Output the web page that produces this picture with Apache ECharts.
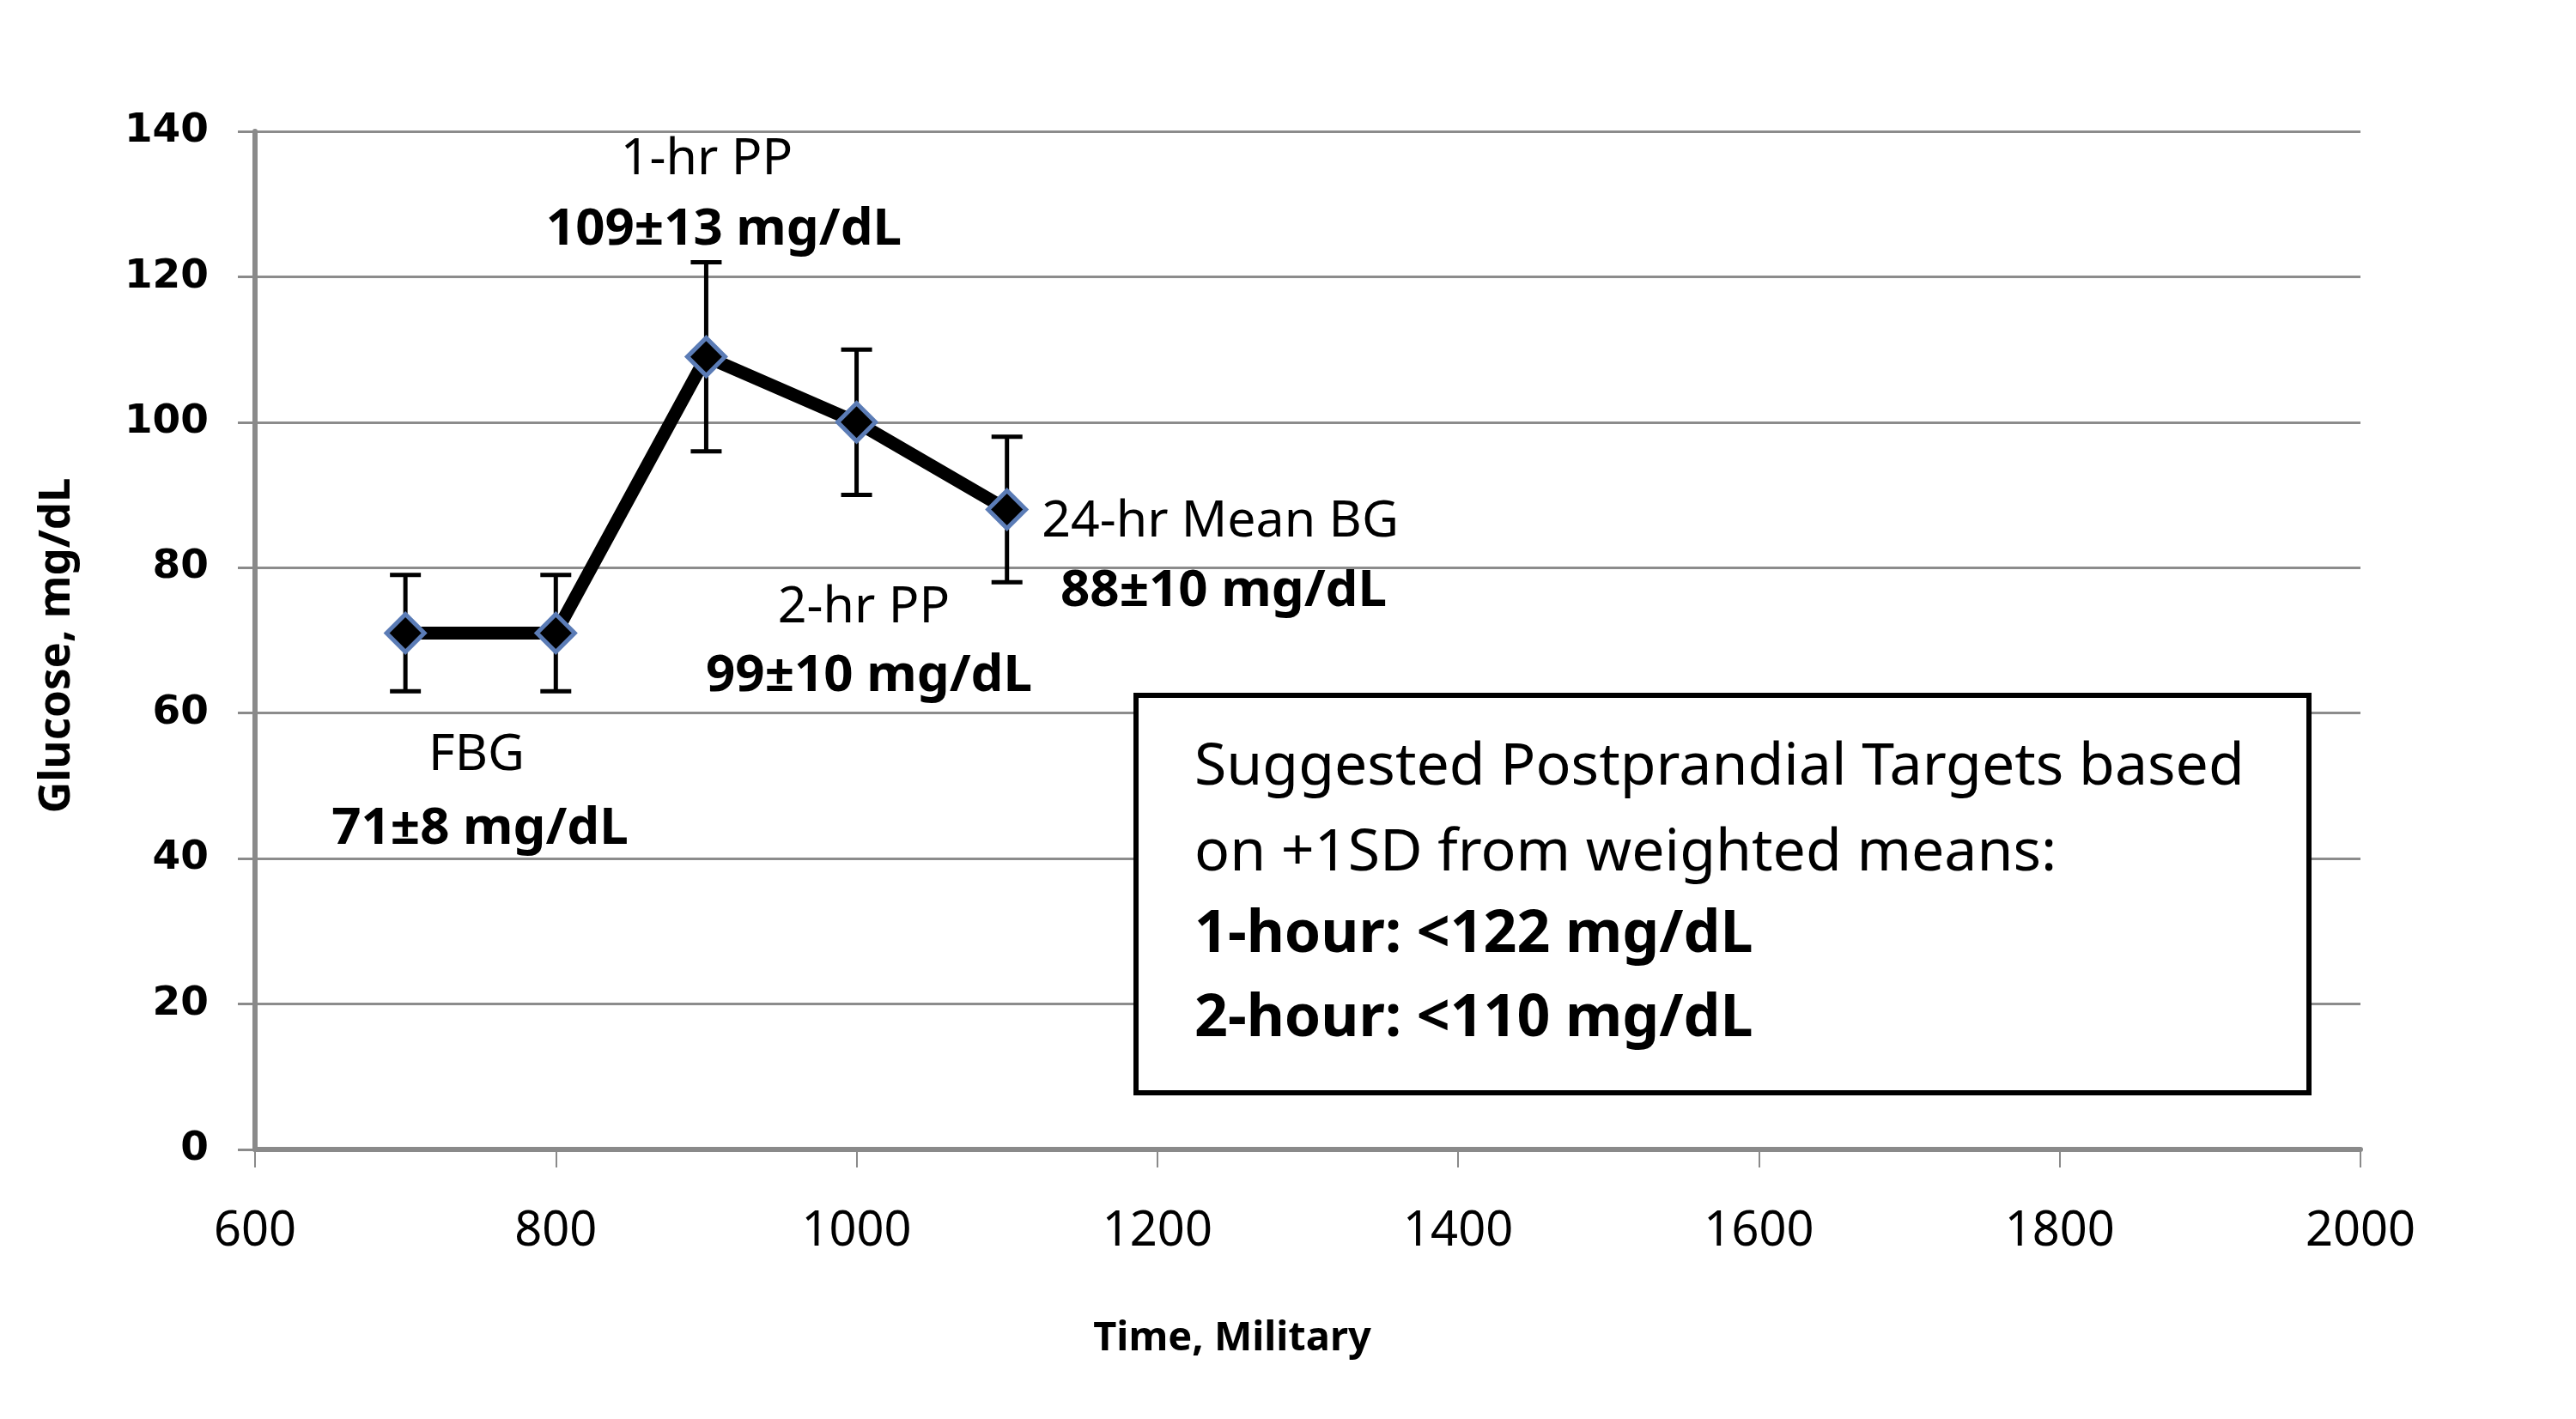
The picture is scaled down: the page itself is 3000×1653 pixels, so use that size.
<!DOCTYPE html>
<html><head><meta charset="utf-8">
<script src="https://cdn.jsdelivr.net/npm/echarts@6/dist/echarts.min.js"></script>
<style>html,body{margin:0;padding:0;background:#fff}#c{width:3000px;height:1653px}</style>
</head><body><div id="c"></div>
<script>
const times = [700, 800, 900, 1000, 1100];
const means = [71, 71, 109, 100, 88];
const sds = [8, 8, 13, 10, 10];
const xTicks = [600, 800, 1000, 1200, 1400, 1600, 1800, 2000];
const yTicks = [0, 20, 40, 60, 80, 100, 120, 140];
const annotations = [
  {title: 'FBG', value: '71±8 mg/dL'},
  {title: '1-hr PP', value: '109±13 mg/dL'},
  {title: '2-hr PP', value: '99±10 mg/dL'},
  {title: '24-hr Mean BG', value: '88±10 mg/dL'}
];
const boxLines = ['Suggested Postprandial Targets based', 'on +1SD from weighted means:', '1-hour: <122 mg/dL', '2-hour: <110 mg/dL'];

const F = 'Noto Sans';
const lineData = times.map((t, i) => [t, means[i]]);
const errData = times.map((t, i) => [t, means[i] - sds[i], means[i] + sds[i]]);

const chart = echarts.init(document.getElementById('c'), null, {renderer: 'canvas'});

const annPos = [
  [[555, 880], [559, 966]],
  [[823, 186], [843, 268]],
  [[1006, 708], [1012, 788]],
  [[1421, 608], [1425, 689]]
];
const graphics = [];
annotations.forEach((a, i) => {
  graphics.push({type: 'text', x: annPos[i][0][0], y: annPos[i][0][1], style: {text: a.title, font: '59px "' + F + '"', fill: '#000', textAlign: 'center', textVerticalAlign: 'middle'}});
  graphics.push({type: 'text', x: annPos[i][1][0], y: annPos[i][1][1], style: {text: a.value, font: 'bold 60px "' + F + '"', fill: '#000', textAlign: 'center', textVerticalAlign: 'middle'}});
});
graphics.push({type: 'rect', shape: {x: 1323, y: 810, width: 1366, height: 463}, style: {fill: '#fff', stroke: '#000', lineWidth: 6}, z: 10});
const boxY = [895, 995, 1090, 1188];
boxLines.forEach((t, i) => {
  graphics.push({type: 'text', x: 1391, y: boxY[i], z: 11, style: {text: t, font: (i >= 2 ? 'bold ' : '') + '68px "' + F + '"', fill: '#000', textAlign: 'left', textVerticalAlign: 'middle'}});
});
graphics.push({type: 'text', x: 1435, y: 1560, style: {text: 'Time, Military', font: 'bold 47px "' + F + '"', fill: '#000', textAlign: 'center', textVerticalAlign: 'middle'}});
graphics.push({type: 'text', x: 66, y: 752, rotation: Math.PI / 2, style: {text: 'Glucose, mg/dL', font: 'bold 51px "' + F + '"', fill: '#000', textAlign: 'center', textVerticalAlign: 'middle'}});

chart.setOption({
  animation: false,
  backgroundColor: '#fff',
  grid: {left: 297, right: 251, top: 153, bottom: 314, containLabel: false},
  xAxis: {
    type: 'value', min: xTicks[0], max: xTicks[xTicks.length - 1], interval: 200,
    axisLine: {show: true, lineStyle: {color: '#8a8a8a', width: 6}},
    axisTick: {show: true, length: 21, lineStyle: {color: '#8a8a8a', width: 2}},
    axisLabel: {margin: 68, fontFamily: F, fontSize: 56, color: '#000', formatter: v => String(v)},
    splitLine: {show: false}
  },
  yAxis: {
    type: 'value', min: yTicks[0], max: yTicks[yTicks.length - 1], interval: 20,
    axisLine: {show: true, lineStyle: {color: '#8a8a8a', width: 6}},
    axisTick: {show: true, length: 20, lineStyle: {color: '#8a8a8a', width: 3}},
    axisLabel: {margin: 54, fontFamily: 'DejaVu Sans', fontWeight: 'bold', fontSize: 47, color: '#000', formatter: v => String(v)},
    splitLine: {show: true, lineStyle: {color: '#8c8c8c', width: 3}}
  },
  series: [
    {
      type: 'custom',
      data: errData,
      z: 3,
      renderItem: function (params, api) {
        const x = api.value(0);
        const lo = api.coord([x, api.value(1)]);
        const hi = api.coord([x, api.value(2)]);
        const hw = 18;
        const st = {stroke: '#000', lineWidth: 5};
        return {type: 'group', children: [
          {type: 'line', shape: {x1: lo[0], y1: lo[1], x2: hi[0], y2: hi[1]}, style: st},
          {type: 'line', shape: {x1: lo[0] - hw, y1: lo[1], x2: lo[0] + hw, y2: lo[1]}, style: st},
          {type: 'line', shape: {x1: hi[0] - hw, y1: hi[1], x2: hi[0] + hw, y2: hi[1]}, style: st}
        ]};
      }
    },
    {
      type: 'line',
      data: lineData,
      z: 4,
      symbol: 'diamond',
      symbolSize: 44,
      lineStyle: {color: '#000', width: 15},
      itemStyle: {color: '#000', borderColor: '#5b7cb6', borderWidth: 5}
    }
  ],
  graphic: graphics
});
</script></body></html>
